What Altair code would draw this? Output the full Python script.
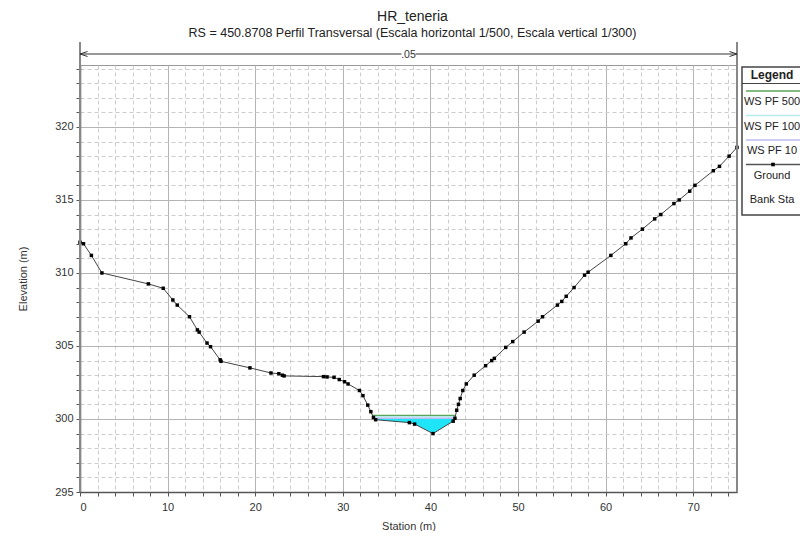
import altair as alt
import pandas as pd
import numpy as np

# ---------------- data ----------------
station = [0.0, 0.4, 1.3, 2.5, 7.8, 9.5, 10.6, 11.1, 12.5, 13.4, 13.6, 14.5, 14.9,
           16.0, 16.1, 19.4, 21.8, 22.7, 23.1, 23.3, 27.8, 28.2, 29.0, 29.6, 30.2,
           30.6, 31.9, 32.3, 32.85, 33.2, 33.5, 33.75, 37.6, 38.2, 40.3, 42.6, 42.8,
           43.0, 43.2, 43.4, 43.7, 44.1, 45.0, 46.3, 47.0, 47.3, 48.6, 49.4, 50.7,
           52.3, 52.8, 54.5, 55.0, 55.5, 56.4, 57.6, 58.0, 60.6, 62.3, 62.9, 64.2,
           65.6, 66.3, 67.8, 68.4, 69.6, 70.2, 72.3, 73.0, 74.1, 75.0]
elevation = [312.1, 312.0, 311.2, 310.0, 309.25, 308.95, 308.15, 307.8, 307.0, 306.1,
             305.95, 305.2, 304.95, 304.05, 303.95, 303.5, 303.15, 303.1, 303.0, 302.95,
             302.9, 302.88, 302.85, 302.7, 302.55, 302.4, 301.95, 301.6, 300.95, 300.5,
             300.1, 299.95, 299.75, 299.65, 299.0, 299.85, 300.05, 300.6, 301.0, 301.4,
             301.95, 302.4, 303.0, 303.65, 304.0, 304.15, 304.9, 305.3, 305.95, 306.7,
             307.0, 307.8, 308.05, 308.4, 309.0, 309.85, 310.05, 311.2, 312.0, 312.4,
             313.0, 313.7, 314.0, 314.75, 315.0, 315.6, 316.0, 317.0, 317.3, 318.0, 318.6]

ws_names = ["WS PF 500", "WS PF 100", "WS PF 10"]
ws_levels = [300.24, 300.15, 300.05]
ws_colors = ["#5aa55a", "#b4ecec", "#bcbcf4"]
water_fill = "#1ee6f8"

legend_labels = ["WS PF 500", "WS PF 100", "WS PF 10", "Ground", "Bank Sta"]

n_value = ".05"
n_bounds = [0.0, 75.0]

title_text = "HR_teneria"
subtitle_text = "RS = 450.8708  Perfil Transversal (Escala horizontal 1/500, Escala vertical 1/300)"

X_DOMAIN = [0, 75]
Y_DOMAIN = [295, 324.24]

FONT = "Liberation Sans"
W, H = 657, 427

# ---------------- helpers ----------------
st = np.array(station)
el = np.array(elevation)
i_min = int(np.argmin(el))


def edges(level):
    i = i_min
    while el[i - 1] < level:
        i -= 1
    xl = st[i - 1] + (level - el[i - 1]) * (st[i] - st[i - 1]) / (el[i] - el[i - 1])
    j = i_min
    while el[j + 1] < level:
        j += 1
    xr = st[j] + (level - el[j]) * (st[j + 1] - st[j]) / (el[j + 1] - el[j])
    return xl, xr, i, j


ground = pd.DataFrame({"station": station, "elevation": elevation})

# water fill under the lowest profile
lvl = ws_levels[-1]
xl, xr, i0, j0 = edges(lvl)
fill_x = [xl] + station[i0:j0 + 1] + [xr]
fill_y = [lvl] + elevation[i0:j0 + 1] + [lvl]
water = pd.DataFrame({"station": fill_x, "bed": fill_y, "ws": [lvl] * len(fill_x)})

ws_rows = []
for name, lev, col in zip(ws_names, ws_levels, ws_colors):
    a, b, _, _ = edges(lev)
    ws_rows.append({"name": name, "level": lev, "x1": a, "x2": b, "color": col})
ws_df = pd.DataFrame(ws_rows)

xs = alt.Scale(domain=X_DOMAIN, nice=False, zero=False)
ys = alt.Scale(domain=Y_DOMAIN, nice=False, zero=False)

x_axis = alt.Axis(
    values=list(range(0, 76, 2)), tickCount=200,
    labelExpr="datum.value % 10 === 0 ? format(datum.value, 'd') : ''",
    title="Station (m)",
    grid=True,
    gridColor={"condition": {"test": "datum.value % 10 === 0", "value": "#b4b4b4"}, "value": "#cccccc"},
    gridDash={"condition": {"test": "datum.value % 10 === 0", "value": []}, "value": [4, 3]},
    tickSize=4, tickColor="#555", labelPadding=5, titlePadding=8, labelOverlap=False,
    domainColor="#555", domainWidth=1.5,
    labelFont=FONT, labelFontSize=11, labelColor="#333",
    titleFont=FONT, titleFontSize=11, titleFontWeight="normal", titleColor="#333",
)
y_axis = alt.Axis(
    values=list(range(295, 325, 1)), tickCount=200,
    labelExpr="datum.value % 5 === 0 ? format(datum.value, 'd') : ''",
    title="Elevation (m)",
    grid=True,
    gridColor={"condition": {"test": "datum.value % 5 === 0", "value": "#b4b4b4"}, "value": "#cccccc"},
    gridDash={"condition": {"test": "datum.value % 5 === 0", "value": []}, "value": [4, 3]},
    tickSize=4, tickColor="#555", labelPadding=3, titlePadding=26, labelOverlap=False,
    domainColor="#555", domainWidth=1.5,
    labelFont=FONT, labelFontSize=11, labelColor="#333",
    titleFont=FONT, titleFontSize=11, titleFontWeight="normal", titleColor="#333",
)

base_ground = alt.Chart(ground).encode(
    x=alt.X("station:Q", scale=xs, axis=x_axis),
    y=alt.Y("elevation:Q", scale=ys, axis=y_axis),
)
ground_line = base_ground.mark_line(color="#444", strokeWidth=1)
ground_pts = base_ground.mark_square(color="black", size=12, opacity=1)

water_area = alt.Chart(water).mark_area(color=water_fill, opacity=1).encode(
    x=alt.X("station:Q", scale=xs), y=alt.Y("bed:Q", scale=ys), y2="ws:Q"
)

ws_lines = alt.Chart(ws_df).mark_rule(strokeWidth=1.6).encode(
    x=alt.X("x1:Q", scale=xs), x2="x2:Q", y=alt.Y("level:Q", scale=ys),
    color=alt.Color("color:N", scale=None),
)

bounds = pd.DataFrame({"s": n_bounds})
bound_rules = alt.Chart(bounds).mark_rule(color="#888", strokeWidth=2).encode(
    x=alt.X("s:Q", scale=xs), y=alt.datum(295, scale=ys), y2=alt.value(-23)
)

# Manning's n arrow
n_df = pd.DataFrame({"a": [n_bounds[0]], "b": [n_bounds[1]], "mid": [sum(n_bounds) / 2], "label": [n_value]})
arrow_line = alt.Chart(n_df).mark_rule(color="#333", strokeWidth=1).encode(
    x=alt.X("a:Q", scale=xs), x2="b:Q", y=alt.value(-11)
)
arrow_gap = alt.Chart(n_df).mark_point(shape="square", filled=True, color="white", size=200, opacity=1).encode(
    x=alt.X("mid:Q", scale=xs), y=alt.value(-11)
)
arrow_text = alt.Chart(n_df).mark_text(font=FONT, fontSize=10.5, color="#333", baseline="middle").encode(
    x=alt.X("mid:Q", scale=xs), y=alt.value(-10), text="label:N"
)
arrow_l = alt.Chart(n_df).mark_point(shape="M3,-1L0,0L3,1", filled=False, color="#333", size=25, strokeWidth=1, opacity=1).encode(
    x=alt.X("a:Q", scale=xs), y=alt.value(-11)
)
arrow_r = alt.Chart(n_df).mark_point(shape="M-3,-1L0,0L-3,1", filled=False, color="#333", size=25, strokeWidth=1, opacity=1).encode(
    x=alt.X("b:Q", scale=xs), y=alt.value(-11)
)

# Legend box (drawn to the right of the plot, running off the chart edge)
one = pd.DataFrame({"k": [0]})
LX0, LX1, LCX = W + 5, W + 100, W + 35
leg_box = alt.Chart(one).mark_rect(fill="white", stroke="#444", strokeWidth=1.5).encode(
    x=alt.value(LX0), x2=alt.value(LX1), y=alt.value(2), y2=alt.value(150)
)
leg_title = alt.Chart(one).mark_text(font=FONT, fontSize=12, fontWeight="bold", color="#222", baseline="middle").encode(
    x=alt.value(LCX), y=alt.value(10), text=alt.value("Legend")
)
leg_sep = alt.Chart(one).mark_rule(color="#444", strokeWidth=1).encode(
    x=alt.value(LX0), x2=alt.value(LX1), y=alt.value(18.5)
)
leg_df = pd.DataFrame({"label": legend_labels, "i": list(range(len(legend_labels))),
                       "color": ws_colors + ["#555", "white"]})
leg_text = alt.Chart(leg_df).transform_calculate(ty="37 + 24.5 * datum.i").mark_text(
    font=FONT, fontSize=11, color="#222", baseline="middle"
).encode(x=alt.value(LCX), y=alt.Y("ty:Q", scale=None), text="label:N")
leg_lines = alt.Chart(leg_df).transform_filter("datum.i < 4").transform_calculate(
    ty="26 + 24.5 * datum.i"
).mark_rule(strokeWidth=1.3).encode(
    x=alt.value(LX0 + 4), x2=alt.value(LX1), y=alt.Y("ty:Q", scale=None),
    color=alt.Color("color:N", scale=None),
)
leg_dot = alt.Chart(leg_df).transform_filter("datum.i === 3").transform_calculate(
    ty="26 + 24.5 * datum.i"
).mark_square(color="black", size=13, opacity=1).encode(
    x=alt.value(LCX + 1), y=alt.Y("ty:Q", scale=None)
)

chart = alt.layer(
    water_area, ws_lines, ground_line, ground_pts, bound_rules,
    arrow_line, arrow_gap, arrow_text, arrow_l, arrow_r,
    leg_box, leg_title, leg_sep, leg_lines, leg_dot, leg_text,
).properties(
    width=W, height=H,
    title=alt.TitleParams(
        text=title_text, subtitle=subtitle_text, anchor="middle", offset=2, frame="group", dx=4,
        font=FONT, fontSize=14, fontWeight="normal", color="#222",
        subtitleFont=FONT, subtitleFontSize=12.5, subtitleColor="#222", subtitlePadding=3,
    ),
    autosize=alt.AutoSizeParams(type="none"),
    padding={"left": 72, "top": 57, "right": 63, "bottom": 39},
    background="white",
).configure_view(stroke="#999", strokeWidth=1)

chart.save("out.html", embed_options={"renderer": "svg", "actions": False})
